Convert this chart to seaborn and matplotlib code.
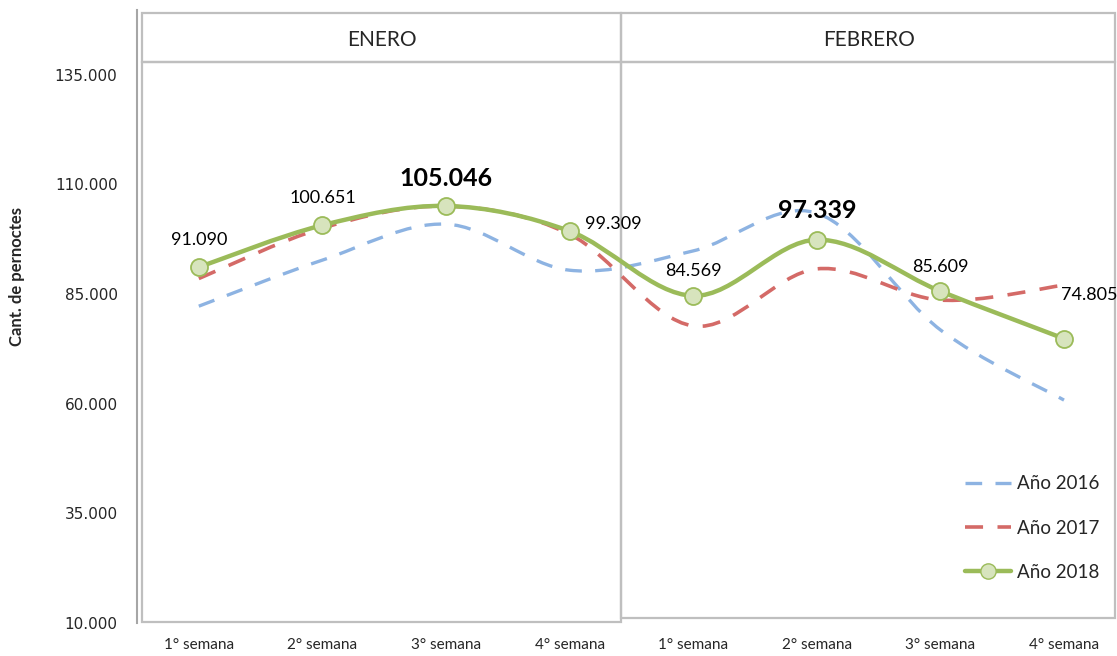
import numpy as np
import pandas as pd
import matplotlib
matplotlib.use("Agg")
import matplotlib.pyplot as plt
import seaborn as sns
from matplotlib.path import Path
from matplotlib.patches import PathPatch, Rectangle
from matplotlib.lines import Line2D
from matplotlib.ticker import FuncFormatter, FixedLocator

# data
semanas = ["1° semana", "2° semana", "3° semana", "4° semana",
           "1° semana", "2° semana", "3° semana", "4° semana"]
meses = ["ENERO", "FEBRERO"]
anio_2016 = [82200, 92700, 100900, 90400, 94800, 103400, 76800, 60800]
anio_2017 = [88500, 100000, 105000, 98600, 77700, 90700, 83600, 87000]
anio_2018 = [91090, 100651, 105046, 99309, 84569, 97339, 85609, 74805]
etiquetas_2018 = ["91.090", "100.651", "105.046", "99.309",
                  "84.569", "97.339", "85.609", "74.805"]

df = pd.DataFrame({"pos": np.arange(len(semanas)), "semana": semanas,
                   "2016": anio_2016, "2017": anio_2017, "2018": anio_2018})

sns.set_theme(style="white")
plt.rcParams["font.family"] = ["Lato", "DejaVu Sans"]

W, H = 1117, 656
fig = plt.figure(figsize=(W / 100, H / 100), dpi=100)
ax = fig.add_axes([137 / W, 33 / H, 980 / W, 613 / H])


def smooth_path(xs, ys):
    # excel-like smoothed line: catmull-rom segments as cubic beziers
    pts = np.column_stack([xs, ys]).astype(float)
    n = len(pts)
    verts = [pts[0]]
    codes = [Path.MOVETO]
    for i in range(n - 1):
        p0 = pts[i - 1] if i > 0 else pts[i]
        p1, p2 = pts[i], pts[i + 1]
        p3 = pts[i + 2] if i + 2 < n else pts[i + 1]
        verts += [p1 + (p2 - p0) / 6, p2 - (p3 - p1) / 6, p2]
        codes += [Path.CURVE4] * 3
    return Path(verts, codes)


c16, c17, c18 = "#8DB3E2", "#D46A67", "#9BBB59"
ax.add_patch(PathPatch(smooth_path(df["pos"], df["2016"]), fill=False,
                       edgecolor=c16, lw=2.4, linestyle=(0, (5, 4)), zorder=3))
ax.add_patch(PathPatch(smooth_path(df["pos"], df["2017"]), fill=False,
                       edgecolor=c17, lw=2.6, linestyle=(0, (5, 4)), zorder=4))
ax.add_patch(PathPatch(smooth_path(df["pos"], df["2018"]), fill=False,
                       edgecolor=c18, lw=3.2, capstyle="round", zorder=5))
sns.scatterplot(data=df, x="pos", y="2018", ax=ax, s=150, color="#D7E4BD",
                edgecolor=c18, linewidth=1.3, zorder=6, legend=False)

# data labels for 2018
offsets = [(0, 27), (0, 27), (0, 27), (44, 7), (0, 25), (0, 29), (0, 24), (25, 44)]
for i, (lab, off) in enumerate(zip(etiquetas_2018, offsets)):
    big = lab in ("105.046", "97.339")
    ax.annotate(lab, (i, anio_2018[i]), textcoords="offset pixels", xytext=off,
                ha="center", va="center", fontsize=18 if big else 13,
                fontweight="bold" if big else "normal", color="black", zorder=7)

ax.set_xlim(-0.5, -0.5 + 980 / 123.6)
ax.set_ylim(10000, 149700)
ax.yaxis.set_major_locator(FixedLocator(np.arange(10000, 135001, 25000)))
ax.yaxis.set_major_formatter(FuncFormatter(lambda v, p: f"{v:,.0f}".replace(",", ".")))
ax.set_xticks(df["pos"])
ax.set_xticklabels(semanas)
ax.set_xticks(np.arange(0.5, 7, 1), minor=True)
ax.tick_params(axis="x", which="major", length=0, pad=11, labelsize=11)
ax.tick_params(axis="x", which="minor", length=5, width=1, color="#BFBFBF", direction="out")
ax.tick_params(axis="y", length=5, width=1, color="#A6A6A6", direction="out",
               pad=9, labelsize=11)
for t in ax.get_yticklabels():
    t.set_fontfamily("DejaVu Sans")
ax.set_xlabel("")
ax.set_ylabel("")
for s in ["top", "right", "bottom"]:
    ax.spines[s].set_visible(False)
ax.spines["left"].set_color("#A6A6A6")
ax.spines["left"].set_linewidth(1.5)
ax.grid(False)

fig.text(17 / W, 1 - 277 / H, "Cant. de pernoctes", rotation=90, ha="center",
         va="center", fontsize=12, fontweight="bold")


# panel boxes drawn as in the original
def xa(px):
    return (px - 137) / 980


def ya(py):
    return (623 - py) / 613


box_kw = dict(transform=ax.transAxes, fill=False, edgecolor="#BFBFBF", lw=1.6,
              clip_on=False, zorder=2)
for (x0, x1, yb) in [(142, 621, 622), (621, 1115, 618)]:
    ax.add_patch(Rectangle((xa(x0), ya(62)), xa(x1) - xa(x0), ya(13) - ya(62), **box_kw))
    ax.add_patch(Rectangle((xa(x0), ya(yb)), xa(x1) - xa(x0), ya(62) - ya(yb), **box_kw))
for mes, cx in zip(meses, [382, 869]):
    ax.text(xa(cx), ya(40), mes, transform=ax.transAxes, ha="center", va="center",
            fontsize=15)

handles = [
    Line2D([], [], color=c16, lw=2.4, dashes=(5, 4)),
    Line2D([], [], color=c17, lw=2.6, dashes=(5, 4)),
    Line2D([], [], color=c18, lw=3.2, marker="o", markersize=11,
           markerfacecolor="#D7E4BD", markeredgecolor=c18),
]
ax.legend(handles, ["Año 2016", "Año 2017", "Año 2018"], loc="center",
          bbox_to_anchor=(xa(1032), ya(528)), frameon=False, fontsize=13.5,
          labelspacing=1.45, handlelength=2.5, handletextpad=0.3)

fig.savefig("out.png", dpi=100)
